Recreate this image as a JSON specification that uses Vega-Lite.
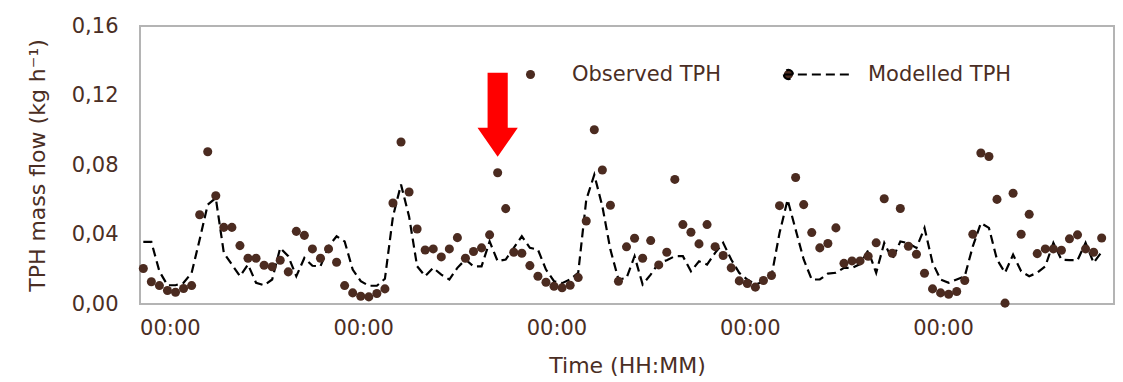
{
  "$schema": "https://vega.github.io/schema/vega-lite/v6.json",
  "width": 974,
  "height": 278,
  "autosize": "none",
  "padding": {"left": 140, "top": 26, "right": 9, "bottom": 78},
  "background": "white",
  "config": {
    "view": {"stroke": "#b4b4b4", "strokeWidth": 2},
    "font": "DejaVu Sans"
  },
  "datasets": {
    "tph": [
      {"hour": 0, "observed": 0.0204, "modelled": 0.0357},
      {"hour": 1, "observed": 0.0128, "modelled": 0.0357},
      {"hour": 2, "observed": 0.0106, "modelled": 0.0188},
      {"hour": 3, "observed": 0.0078, "modelled": 0.0108},
      {"hour": 4, "observed": 0.0068, "modelled": 0.0108},
      {"hour": 5, "observed": 0.0089, "modelled": 0.0122},
      {"hour": 6, "observed": 0.0106, "modelled": 0.0179},
      {"hour": 7, "observed": 0.0514, "modelled": 0.0371},
      {"hour": 8, "observed": 0.0876, "modelled": 0.0572},
      {"hour": 9, "observed": 0.0623, "modelled": 0.0610},
      {"hour": 10, "observed": 0.0441, "modelled": 0.0294},
      {"hour": 11, "observed": 0.0441, "modelled": 0.0227},
      {"hour": 12, "observed": 0.0336, "modelled": 0.0160},
      {"hour": 13, "observed": 0.0263, "modelled": 0.0227},
      {"hour": 14, "observed": 0.0263, "modelled": 0.0122},
      {"hour": 15, "observed": 0.0223, "modelled": 0.0108},
      {"hour": 16, "observed": 0.0214, "modelled": 0.0141},
      {"hour": 17, "observed": 0.0252, "modelled": 0.0323},
      {"hour": 18, "observed": 0.0185, "modelled": 0.0275},
      {"hour": 19, "observed": 0.0418, "modelled": 0.0160},
      {"hour": 20, "observed": 0.0395, "modelled": 0.0265},
      {"hour": 21, "observed": 0.0317, "modelled": 0.0220},
      {"hour": 22, "observed": 0.0263, "modelled": 0.0217},
      {"hour": 23, "observed": 0.0317, "modelled": 0.0332},
      {"hour": 24, "observed": 0.0240, "modelled": 0.0390},
      {"hour": 25, "observed": 0.0106, "modelled": 0.0360},
      {"hour": 26, "observed": 0.0064, "modelled": 0.0198},
      {"hour": 27, "observed": 0.0045, "modelled": 0.0131},
      {"hour": 28, "observed": 0.0041, "modelled": 0.0105},
      {"hour": 29, "observed": 0.0060, "modelled": 0.0105},
      {"hour": 30, "observed": 0.0087, "modelled": 0.0145},
      {"hour": 31, "observed": 0.0581, "modelled": 0.0504},
      {"hour": 32, "observed": 0.0932, "modelled": 0.0687},
      {"hour": 33, "observed": 0.0645, "modelled": 0.0504},
      {"hour": 34, "observed": 0.0432, "modelled": 0.0217},
      {"hour": 35, "observed": 0.0311, "modelled": 0.0160},
      {"hour": 36, "observed": 0.0317, "modelled": 0.0208},
      {"hour": 37, "observed": 0.0271, "modelled": 0.0169},
      {"hour": 38, "observed": 0.0317, "modelled": 0.0141},
      {"hour": 39, "observed": 0.0382, "modelled": 0.0208},
      {"hour": 40, "observed": 0.0263, "modelled": 0.0256},
      {"hour": 41, "observed": 0.0302, "modelled": 0.0217},
      {"hour": 42, "observed": 0.0323, "modelled": 0.0217},
      {"hour": 43, "observed": 0.0398, "modelled": 0.0360},
      {"hour": 44, "observed": 0.0755, "modelled": 0.0246},
      {"hour": 45, "observed": 0.0549, "modelled": 0.0256},
      {"hour": 46, "observed": 0.0298, "modelled": 0.0323},
      {"hour": 47, "observed": 0.0292, "modelled": 0.0390},
      {"hour": 48, "observed": 0.0221, "modelled": 0.0323},
      {"hour": 49, "observed": 0.0160, "modelled": 0.0313},
      {"hour": 50, "observed": 0.0125, "modelled": 0.0198},
      {"hour": 51, "observed": 0.0102, "modelled": 0.0131},
      {"hour": 52, "observed": 0.0093, "modelled": 0.0120},
      {"hour": 53, "observed": 0.0108, "modelled": 0.0141},
      {"hour": 54, "observed": 0.0152, "modelled": 0.0179},
      {"hour": 55, "observed": 0.0478, "modelled": 0.0600},
      {"hour": 56, "observed": 0.1003, "modelled": 0.0744},
      {"hour": 57, "observed": 0.0771, "modelled": 0.0562},
      {"hour": 58, "observed": 0.0568, "modelled": 0.0313},
      {"hour": 59, "observed": 0.0131, "modelled": 0.0141},
      {"hour": 60, "observed": 0.0329, "modelled": 0.0150},
      {"hour": 61, "observed": 0.0378, "modelled": 0.0275},
      {"hour": 62, "observed": 0.0263, "modelled": 0.0112},
      {"hour": 63, "observed": 0.0365, "modelled": 0.0169},
      {"hour": 64, "observed": 0.0225, "modelled": 0.0237},
      {"hour": 65, "observed": 0.0298, "modelled": 0.0252},
      {"hour": 66, "observed": 0.0717, "modelled": 0.0275},
      {"hour": 67, "observed": 0.0457, "modelled": 0.0275},
      {"hour": 68, "observed": 0.0413, "modelled": 0.0188},
      {"hour": 69, "observed": 0.0346, "modelled": 0.0246},
      {"hour": 70, "observed": 0.0457, "modelled": 0.0227},
      {"hour": 71, "observed": 0.0330, "modelled": 0.0294},
      {"hour": 72, "observed": 0.0279, "modelled": 0.0352},
      {"hour": 73, "observed": 0.0208, "modelled": 0.0256},
      {"hour": 74, "observed": 0.0133, "modelled": 0.0179},
      {"hour": 75, "observed": 0.0118, "modelled": 0.0141},
      {"hour": 76, "observed": 0.0097, "modelled": 0.0112},
      {"hour": 77, "observed": 0.0135, "modelled": 0.0130},
      {"hour": 78, "observed": 0.0164, "modelled": 0.0160},
      {"hour": 79, "observed": 0.0566, "modelled": 0.0409},
      {"hour": 80, "observed": null, "modelled": 0.0600},
      {"hour": 81, "observed": 0.0728, "modelled": 0.0428},
      {"hour": 82, "observed": 0.0572, "modelled": 0.0256},
      {"hour": 83, "observed": 0.0411, "modelled": 0.0141},
      {"hour": 84, "observed": 0.0323, "modelled": 0.0141},
      {"hour": 85, "observed": 0.0348, "modelled": 0.0175},
      {"hour": 86, "observed": 0.0438, "modelled": 0.0180},
      {"hour": 87, "observed": 0.0234, "modelled": 0.0208},
      {"hour": 88, "observed": 0.0248, "modelled": 0.0208},
      {"hour": 89, "observed": 0.0248, "modelled": 0.0230},
      {"hour": 90, "observed": 0.0275, "modelled": 0.0308},
      {"hour": 91, "observed": 0.0352, "modelled": 0.0180},
      {"hour": 92, "observed": 0.0606, "modelled": 0.0352},
      {"hour": 93, "observed": 0.0292, "modelled": 0.0256},
      {"hour": 94, "observed": 0.0550, "modelled": 0.0360},
      {"hour": 95, "observed": 0.0332, "modelled": 0.0350},
      {"hour": 96, "observed": 0.0286, "modelled": 0.0323},
      {"hour": 97, "observed": 0.0177, "modelled": 0.0438},
      {"hour": 98, "observed": 0.0087, "modelled": 0.0237},
      {"hour": 99, "observed": 0.0064, "modelled": 0.0141},
      {"hour": 100, "observed": 0.0056, "modelled": 0.0122},
      {"hour": 101, "observed": 0.0072, "modelled": 0.0141},
      {"hour": 102, "observed": 0.0135, "modelled": 0.0160},
      {"hour": 103, "observed": 0.0401, "modelled": 0.0332},
      {"hour": 104, "observed": 0.0869, "modelled": 0.0466},
      {"hour": 105, "observed": 0.0849, "modelled": 0.0438},
      {"hour": 106, "observed": 0.0602, "modelled": 0.0256},
      {"hour": 107, "observed": 0.0005, "modelled": 0.0180},
      {"hour": 108, "observed": 0.0637, "modelled": 0.0284},
      {"hour": 109, "observed": 0.0401, "modelled": 0.0188},
      {"hour": 110, "observed": 0.0516, "modelled": 0.0160},
      {"hour": 111, "observed": 0.0290, "modelled": 0.0180},
      {"hour": 112, "observed": 0.0317, "modelled": 0.0217},
      {"hour": 113, "observed": 0.0317, "modelled": 0.0352},
      {"hour": 114, "observed": 0.0309, "modelled": 0.0256},
      {"hour": 115, "observed": 0.0375, "modelled": 0.0252},
      {"hour": 116, "observed": 0.0398, "modelled": 0.0252},
      {"hour": 117, "observed": 0.0317, "modelled": 0.0352},
      {"hour": 118, "observed": 0.0298, "modelled": 0.0237},
      {"hour": 119, "observed": 0.0380, "modelled": 0.0300}
    ],
    "arrow": [{"hour": 44, "value": 0.1089}]
  },
  "layer": [
    {
      "data": {"name": "tph"},
      "mark": {"type": "line", "color": "black", "strokeWidth": 2.2, "interpolate": "linear"},
      "encoding": {
        "x": {
          "field": "hour", "type": "quantitative",
          "scale": {"domain": [-0.41, 120.53], "nice": false, "zero": false},
          "axis": {
            "values": [3.3, 27.3, 51.3, 75.3, 99.3],
            "labelExpr": "'00:00'",
            "ticks": false, "domain": false, "grid": false,
            "labelFontSize": 21, "labelColor": "#4a2e24", "labelPadding": 13,
            "title": "Time (HH:MM)", "titleFontSize": 22, "titleFontWeight": "normal",
            "titleColor": "#4a2e24", "titlePadding": 17
          }
        },
        "y": {
          "field": "modelled", "type": "quantitative",
          "scale": {"domain": [0, 0.16], "nice": false},
          "axis": {
            "values": [0, 0.04, 0.08, 0.12, 0.16],
            "labelExpr": "replace(format(datum.value, '.2f'), '.', ',')",
            "ticks": false, "domain": false, "grid": false,
            "labelFontSize": 21, "labelColor": "#4a2e24", "labelPadding": 22,
            "title": "TPH mass flow (kg h⁻¹)", "titleFontSize": 22, "titleFontWeight": "normal",
            "titleColor": "#4a2e24", "titlePadding": 22
          }
        },
        "strokeDash": {
          "datum": "Modelled TPH",
          "scale": {"range": [[9, 5]]},
          "legend": {
            "orient": "none", "legendX": 642, "legendY": 12, "title": null,
            "symbolType": "M-0.99,0 H1 M-0.99,0 a0.13,0.13 0 1,0 0.26,0 a0.13,0.13 0 1,0 -0.26,0 Z",
            "symbolSize": 4900, "symbolStrokeWidth": 2.2,
            "symbolStrokeColor": "black", "symbolFillColor": "#4b2b20",
            "labelFontSize": 21, "labelColor": "#4a2e24", "labelOffset": 13
          }
        }
      }
    },
    {
      "data": {"name": "tph"},
      "mark": {"type": "point", "filled": true, "color": "#4b2b20", "size": 82, "opacity": 1},
      "encoding": {
        "x": {"field": "hour", "type": "quantitative"},
        "y": {"field": "observed", "type": "quantitative"},
        "shape": {
          "datum": "Observed TPH",
          "scale": {"range": ["circle"]},
          "legend": {
            "orient": "none", "legendX": 380, "legendY": 38, "title": null,
            "symbolSize": 82, "symbolFillColor": "#4b2b20", "symbolStrokeWidth": 0,
            "labelFontSize": 21, "labelColor": "#4a2e24", "labelOffset": 31
          }
        }
      }
    },
    {
      "data": {"name": "arrow"},
      "mark": {
        "type": "point", "filled": true, "color": "#ff0000", "opacity": 1, "size": 7056,
        "shape": "M-0.24,-1 L0.24,-1 L0.24,0.31 L0.48,0.31 L0,1 L-0.48,0.31 L-0.24,0.31 Z"
      },
      "encoding": {
        "x": {"field": "hour", "type": "quantitative"},
        "y": {"field": "value", "type": "quantitative"}
      }
    }
  ]
}
